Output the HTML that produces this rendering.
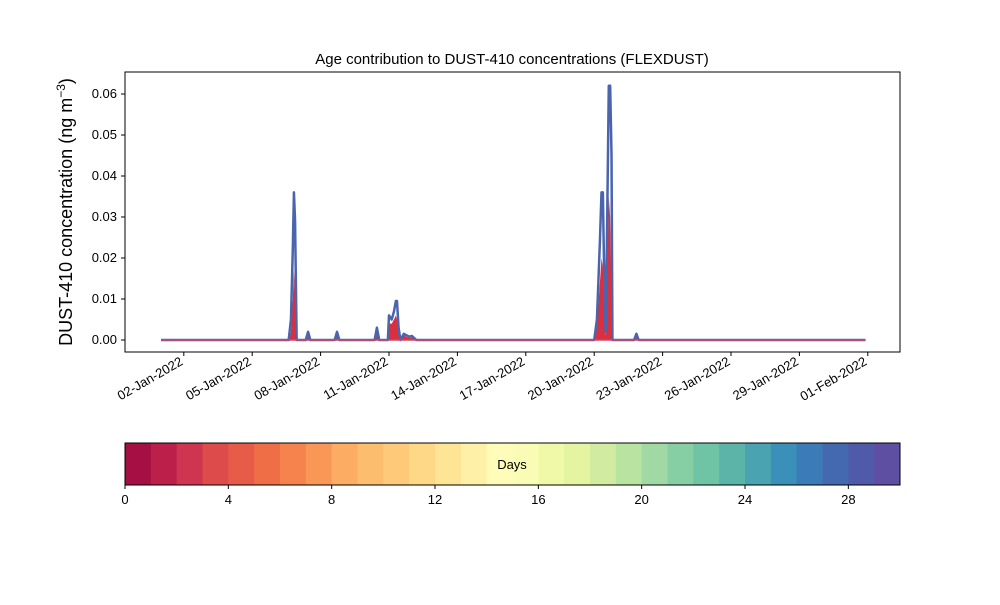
<!DOCTYPE html>
<html><head><meta charset="utf-8">
<style>
body{margin:0;background:#fff;font-family:"Liberation Sans",sans-serif;}
svg text{font-family:"Liberation Sans",sans-serif;}
</style></head>
<body>
<svg id="c" width="1000" height="600" xmlns="http://www.w3.org/2000/svg">
<text x="512" y="64" font-size="15" text-anchor="middle">Age contribution to DUST-410 concentrations (FLEXDUST)</text>
<text transform="translate(72,212) rotate(-90)" font-size="18" text-anchor="middle">DUST-410 concentration (ng m<tspan dy="-7" font-size="12">−3</tspan><tspan dy="7">)</tspan></text>
<g id="plot"></g>
<rect x="125" y="72" width="775" height="280" fill="none" stroke="#000" stroke-width="1"/>
<g id="yt"></g><g id="xt"></g><g id="cb"></g>
</svg>
<script>
const days = [0,5.6,5.7,5.78,5.83,5.88,5.95,6.35,6.45,6.55,7.62,7.72,7.82,9.37,9.47,9.57,9.95,10.0,10.12,10.22,10.3,10.35,10.42,10.5,10.65,10.75,10.9,11.0,11.2,11.3,19.0,19.12,19.25,19.32,19.38,19.45,19.5,19.55,19.64,19.7,19.76,19.8,19.85,20.75,20.85,20.95,30.9];
const total = [0,0,0.005,0.022,0.036,0.029,0,0,0.002,0,0,0.002,0,0,0.003,0,0,0.006,0.005,0.007,0.0095,0.0095,0.003,0,0.0015,0.0012,0.0008,0.001,0,0,0,0.005,0.024,0.036,0.036,0.012,0.002,0.02,0.062,0.062,0.045,0,0,0,0.0015,0,0];
const young = [0,0,0.002,0.01,0.017,0.012,0,0,0.001,0,0,0.001,0,0,0.002,0,0,0.004,0.004,0.005,0.006,0.005,0.002,0,0.0012,0.0008,0.0005,0.0006,0,0,0,0.003,0.014,0.02,0.018,0.006,0.001,0.01,0.035,0.03,0.012,0,0,0,0.0008,0,0];
const yTicks = [0,0.01,0.02,0.03,0.04,0.05,0.06];
const xLabels = ["02-Jan-2022","05-Jan-2022","08-Jan-2022","11-Jan-2022","14-Jan-2022","17-Jan-2022","20-Jan-2022","23-Jan-2022","26-Jan-2022","29-Jan-2022","01-Feb-2022"];
const xTickDays = [1,4,7,10,13,16,19,22,25,28,31];
const cbColors = ["#a50f44","#bb1f4a","#cf3550","#de4b4b","#e75c49","#f06e46","#f6824d","#f99757","#fcac63","#fdbd6f","#fec979","#fed887","#fee595","#fff0a7","#fffbb8","#f9fcb4","#f0f9a8","#e5f4a0","#d1eca0","#b9e3a0","#a0d9a3","#86cfa5","#6fc4a5","#5cb4a9","#4aa3b1","#3a90b9","#3b7bb7","#4469b0","#4f5aaa","#5e4fa2"];
const cbTicks = [0,4,8,12,16,20,24,28];
const NS="http://www.w3.org/2000/svg";
const X = d => 161 + d*22.8;
const Y = v => 340 - v/0.01*41;
function mk(tag,attrs,parent){const e=document.createElementNS(NS,tag);for(const k in attrs)e.setAttribute(k,attrs[k]);document.getElementById(parent).appendChild(e);return e;}
let pts = days.map((d,i)=>X(d)+","+Y(young[i])).join(" ");
let a = mk("polygon",{points:X(days[0])+","+Y(0)+" "+pts+" "+X(days[days.length-1])+","+Y(0),fill:"#d8303f"},"plot");


let tp = days.map((d,i)=>X(d)+","+Y(total[i])).join(" ");
let l = mk("polyline",{points:tp,fill:"none",stroke:"#4a65ad","stroke-width":2.5,"stroke-linejoin":"round"},"plot");


let b = mk("line",{x1:X(0),x2:X(30.9),y1:Y(0),y2:Y(0),stroke:"#c84a6a","stroke-width":1.5},"plot");


yTicks.forEach(v=>{
 mk("line",{x1:121,x2:125,y1:Y(v),y2:Y(v),stroke:"#000"},"yt");
 let t=mk("text",{x:117,y:Y(v)+4,"font-size":13,"text-anchor":"end"},"yt");t.textContent=v.toFixed(2);
 
 
});
xTickDays.forEach((d,i)=>{
 const x=X(d);
 mk("line",{x1:x,x2:x,y1:352,y2:356,stroke:"#000"},"xt");
 let t=mk("text",{x:x,y:364,"font-size":13,"text-anchor":"end",transform:`rotate(-30 ${x} 364)`},"xt");t.textContent=xLabels[i];
 
 
});
const cw=775/30;
cbColors.forEach((c,i)=>{
 let r=mk("rect",{x:125+i*cw,y:443,width:cw+0.5,height:42,fill:c},"cb");
 
 
});
mk("rect",{x:125,y:443,width:775,height:42,fill:"none",stroke:"#000"},"cb");
let dl=mk("text",{x:512,y:469,"font-size":13,"text-anchor":"middle"},"cb");dl.textContent="Days";


cbTicks.forEach(v=>{
 const x=125+v*cw;
 mk("line",{x1:x,x2:x,y1:485,y2:489,stroke:"#000"},"cb");
 let t=mk("text",{x:x,y:504,"font-size":13,"text-anchor":"middle"},"cb");t.textContent=v;
 
 
});
</script>
</body></html>
